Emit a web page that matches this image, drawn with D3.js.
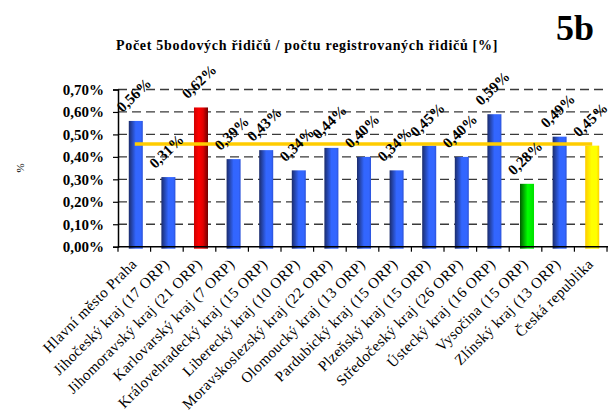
<!DOCTYPE html>
<html>
<head>
<meta charset="utf-8">
<script src="https://cdn.jsdelivr.net/npm/d3@7"></script>
<style>
  html, body { margin: 0; padding: 0; background: #fff; }
  svg { display: block; }
  text { font-family: "Liberation Serif", "Times New Roman", serif; }
</style>
</head>
<body>
<svg id="chart" width="610" height="415"></svg>
<script>
// Regions and their share of 5-point drivers among registered drivers (%)
const regions = [
  "Hlavní město Praha",
  "Jihočeský kraj (17 ORP)",
  "Jihomoravský kraj (21 ORP)",
  "Karlovarský kraj (7 ORP)",
  "Královehradecký kraj (15 ORP)",
  "Liberecký kraj (10 ORP)",
  "Moravskoslezský kraj (22 ORP)",
  "Olomoucký kraj (13 ORP)",
  "Pardubický kraj (15 ORP)",
  "Plzeňský kraj (15 ORP)",
  "Středočeský kraj (26 ORP)",
  "Ústecký kraj (16 ORP)",
  "Vysočina (15 ORP)",
  "Zlínský kraj (13 ORP)",
  "Česká republika"
];
const shares = [0.56, 0.31, 0.62, 0.39, 0.43, 0.34, 0.44, 0.40, 0.34, 0.45, 0.40, 0.59, 0.28, 0.49, 0.45];
// bar highlight: max, min and national value
const barKind = ["blue", "blue", "red", "blue", "blue", "blue", "blue", "blue", "blue", "blue", "blue", "blue", "green", "blue", "yellow"];
// national average reference line
const nationalAverage = 0.457;
const yTicks = [0, 0.1, 0.2, 0.3, 0.4, 0.5, 0.6, 0.7];

const svg = d3.select("#chart");
const plotLeft = 118, plotRight = 608, plotTop = 89.5, plotBottom = 246.7;

const x = d3.scaleBand().domain(regions).range([plotLeft, plotRight]).paddingInner(0.57).paddingOuter(0.3);
const y = d3.scaleLinear().domain([0, 0.7]).range([plotBottom, plotTop]);
const fmt = v => d3.format(".2f")(v).replace(".", ",") + "%";

// gradients for the shaded bars
const defs = svg.append("defs");
const gradStops = {
  blue:   [["0%", "#1b2c6c"], ["50%", "#3266ff"], ["85%", "#3366ff"], ["100%", "#2b52d8"]],
  red:    [["0%", "#d00000"], ["35%", "#ff0000"], ["65%", "#e00000"], ["100%", "#6e0000"]],
  green:  [["0%", "#005a00"], ["55%", "#00ff00"], ["100%", "#00e000"]],
  yellow: [["0%", "#ffcc00"], ["45%", "#ffff00"], ["80%", "#ffff00"], ["100%", "#ffd200"]]
};
Object.entries(gradStops).forEach(([k, stops]) => {
  const g = defs.append("linearGradient").attr("id", "g-" + k)
    .attr("x1", "0%").attr("x2", "100%").attr("y1", "0%").attr("y2", "0%");
  stops.forEach(([o, c]) => g.append("stop").attr("offset", o).attr("stop-color", c));
});

// title
svg.append("text")
  .attr("x", 307).attr("y", 50)
  .attr("text-anchor", "middle")
  .attr("font-size", 14).attr("font-weight", "bold")
  .attr("letter-spacing", 0.7)
  .text("Počet 5bodových řidičů / počtu registrovaných řidičů [%]");

svg.append("text")
  .attr("x", 556).attr("y", 40)
  .attr("font-size", 36).attr("font-weight", "bold")
  .text("5b");

// y axis title
svg.append("text")
  .attr("transform", "translate(24,168) rotate(-90)")
  .attr("text-anchor", "middle")
  .attr("font-size", 11)
  .text("%");

// dashed gridlines
svg.append("g").selectAll("line")
  .data(yTicks.filter(d => d > 0))
  .join("line")
  .attr("x1", plotLeft).attr("x2", 603)
  .attr("y1", d => y(d)).attr("y2", d => y(d))
  .attr("stroke", "#3a3a3a").attr("stroke-width", 1.3)
  .attr("stroke-dasharray", "9,5");

// bars
svg.append("g").selectAll("rect")
  .data(regions)
  .join("rect")
  .attr("x", d => x(d) + 1)
  .attr("width", x.bandwidth())
  .attr("y", (d, i) => y(shares[i]))
  .attr("height", (d, i) => y(0) - y(shares[i]) + 2)
  .attr("fill", (d, i) => `url(#g-${barKind[i]})`);

// average line
svg.append("line")
  .attr("x1", x(regions[0]) + x.bandwidth() / 2)
  .attr("x2", x(regions[regions.length - 1]) + x.bandwidth() / 2 + 1)
  .attr("y1", y(nationalAverage)).attr("y2", y(nationalAverage))
  .attr("stroke", "#ffcc00").attr("stroke-width", 3.5);

// y axis
const yAxis = d3.axisLeft(y).tickValues(yTicks).tickSize(5).tickPadding(9).tickFormat(fmt);
svg.append("g")
  .attr("transform", `translate(${plotLeft},0)`)
  .call(yAxis)
  .call(g => g.select(".domain").attr("stroke", "#000").attr("stroke-width", 1.5))
  .call(g => g.selectAll(".tick line").attr("stroke", "#000").attr("stroke-width", 1.2))
  .call(g => g.selectAll(".tick text")
    .attr("font-family", "Liberation Serif, Times New Roman, serif")
    .attr("font-size", 15).attr("font-weight", "bold").attr("fill", "#000"));

// x axis line and category boundary ticks
const step = x.step();
svg.append("line")
  .attr("x1", plotLeft).attr("x2", plotRight).attr("y1", plotBottom).attr("y2", plotBottom)
  .attr("stroke", "#000").attr("stroke-width", 1.5);
svg.append("g").selectAll("line")
  .data(d3.range(regions.length + 1))
  .join("line")
  .attr("x1", i => plotLeft + i * step).attr("x2", i => plotLeft + i * step)
  .attr("y1", plotBottom).attr("y2", plotBottom + 5)
  .attr("stroke", "#000").attr("stroke-width", 1.2);

// category labels
svg.append("g").selectAll("text")
  .data(regions)
  .join("text")
  .attr("transform", d => `translate(${x(d) + x.bandwidth() / 2 + 3},265) rotate(-45)`)
  .attr("text-anchor", "end")
  .attr("font-size", 15)
  .attr("letter-spacing", 0.4)
  .text(d => d);

// value labels
svg.append("g").selectAll("text")
  .data(regions)
  .join("text")
  .attr("transform", (d, i) => `translate(${x(d) + x.bandwidth() / 2 - 1},${y(shares[i]) - 26}) rotate(-44)`)
  .attr("text-anchor", "middle")
  .attr("dy", "0.35em")
  .attr("font-size", 15).attr("font-weight", "bold")
  .text((d, i) => fmt(shares[i]));
</script>
</body>
</html>
